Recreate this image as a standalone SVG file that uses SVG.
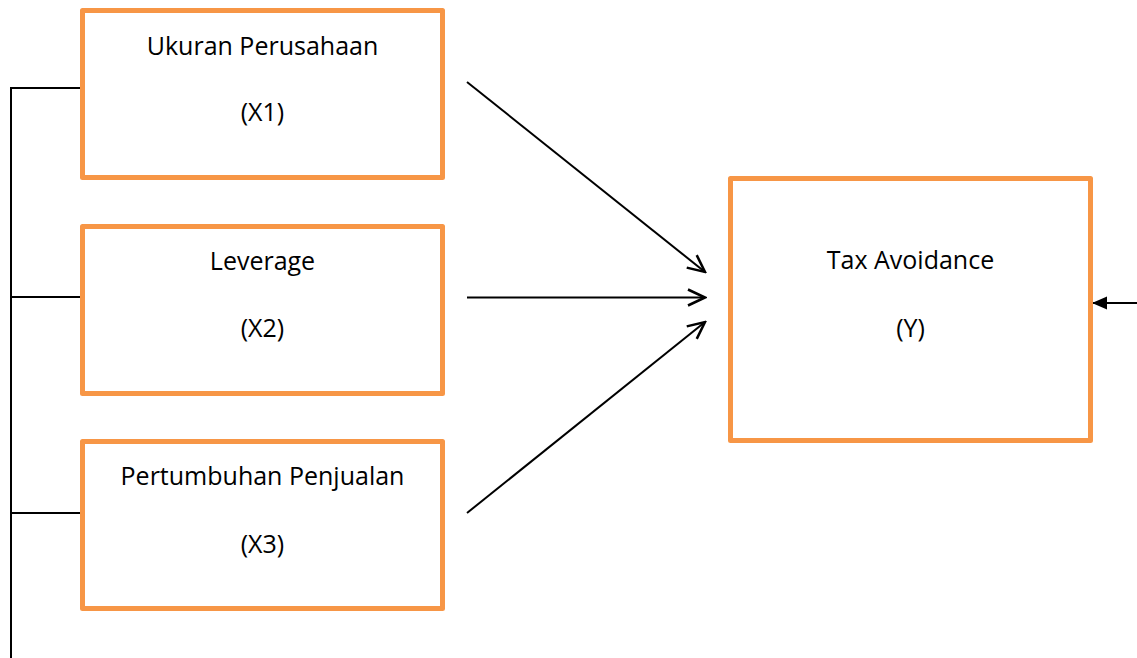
<svg xmlns="http://www.w3.org/2000/svg" width="1137" height="658" viewBox="0 0 1137 658">
<style>
.box{fill:#fff;stroke:#F79646;stroke-width:5;stroke-linejoin:round}
.t{font-family:"Open Sans","Noto Sans",sans-serif;font-size:25px;fill:#000;text-anchor:middle}
.ln{stroke:#000;stroke-width:2;fill:none}
</style>
<defs>
<marker id="open" markerWidth="20" markerHeight="20" refX="18" refY="10" orient="auto" markerUnits="userSpaceOnUse">
<path d="M1,2 L18,10 L1,18" fill="none" stroke="#000" stroke-width="2.5"/>
</marker>
<marker id="fill" markerWidth="16" markerHeight="14" refX="15" refY="7" orient="auto" markerUnits="userSpaceOnUse">
<path d="M0,0.5 L15,7 L0,13.5 Z" fill="#000"/>
</marker>
</defs>
<g id="connectors">
<path class="ln" d="M11,658 L11,88 L82,88 M11,297 L82,297 M11,513 L82,513"/>
<line class="ln" x1="467" y1="82" x2="705" y2="272" marker-end="url(#open)"/>
<line class="ln" x1="467" y1="297.5" x2="705" y2="297.5" marker-end="url(#open)"/>
<line class="ln" x1="467" y1="513" x2="705" y2="322" marker-end="url(#open)"/>
<line class="ln" x1="1137" y1="303" x2="1092" y2="303" marker-end="url(#fill)"/>
</g>
<g id="x1">
<rect class="box" x="82.5" y="10.5" width="360" height="167"/>
<text class="t" x="262.5" y="55">Ukuran Perusahaan</text>
<text class="t" x="262.5" y="121">(X1)</text>
</g>
<g id="x2">
<rect class="box" x="82.5" y="226.5" width="360" height="167"/>
<text class="t" x="262.5" y="270">Leverage</text>
<text class="t" x="262.5" y="337">(X2)</text>
</g>
<g id="x3">
<rect class="box" x="82.5" y="441.5" width="360" height="167"/>
<text class="t" x="262.5" y="485">Pertumbuhan Penjualan</text>
<text class="t" x="262.5" y="553">(X3)</text>
</g>
<g id="y">
<rect class="box" x="730.5" y="178.5" width="360" height="262"/>
<text class="t" x="910.5" y="269">Tax Avoidance</text>
<text class="t" x="910.5" y="337">(Y)</text>
</g>
</svg>
